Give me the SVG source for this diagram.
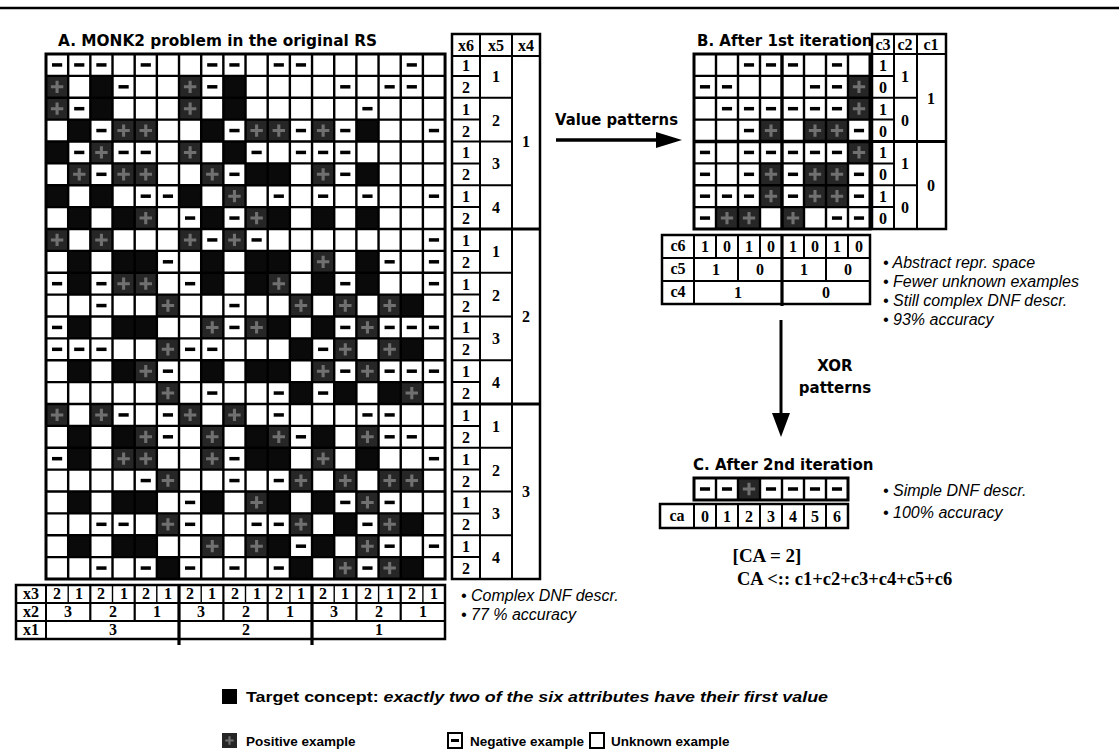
<svg xmlns="http://www.w3.org/2000/svg" xmlns:xlink="http://www.w3.org/1999/xlink" width="1119" height="752" viewBox="0 0 1119 752">
<style>
.ln{stroke:#000;fill:none;vector-effect:non-scaling-stroke}
.tn{font-family:"Liberation Serif","Times New Roman",serif;font-weight:bold;font-size:16px;text-anchor:middle;fill:#000}
.hd{font-family:"DejaVu Sans","Liberation Sans",sans-serif;font-weight:bold;font-size:15px;fill:#000}
.nt{font-family:"Liberation Sans",Arial,sans-serif;font-style:italic;font-size:16px;fill:#000}
.lg{font-family:"Liberation Sans",Arial,sans-serif;font-weight:bold;font-size:13.5px;fill:#000}
</style>
<defs>
<rect id="b" width="1" height="1" fill="#0a0a0a"/>
<g id="p"><rect width="1" height="1" fill="#262626"/><path d="M.5 .22V.78M.22 .5H.78" stroke="#707070" stroke-width=".14" fill="none"/></g>
<rect id="m" x=".27" y=".42" width=".46" height=".16" fill="#000"/>
</defs>
<rect width="1119" height="752" fill="#fff"/>
<line x1="0" y1="8" x2="1119" y2="8" stroke="#000" stroke-width="2.5"/>

<text class="hd" x="58" y="46" textLength="319" lengthAdjust="spacingAndGlyphs">A. MONK2 problem in the original RS</text>

<g id="gridA" transform="translate(46 54) scale(22.17 21.875)">
<use href="#m" x="0" y="0"/><use href="#m" x="1" y="0"/><use href="#m" x="2" y="0"/><use href="#m" x="4" y="0"/><use href="#m" x="7" y="0"/><use href="#m" x="8" y="0"/><use href="#m" x="10" y="0"/><use href="#m" x="11" y="0"/><use href="#m" x="16" y="0"/>
<use href="#p" x="0" y="1"/><use href="#p" x="6" y="1"/><use href="#b" x="2" y="1"/><use href="#b" x="8" y="1"/><use href="#m" x="3" y="1"/><use href="#m" x="7" y="1"/><use href="#m" x="13" y="1"/><use href="#m" x="15" y="1"/><use href="#m" x="16" y="1"/>
<use href="#p" x="0" y="2"/><use href="#p" x="6" y="2"/><use href="#b" x="2" y="2"/><use href="#b" x="8" y="2"/><use href="#m" x="1" y="2"/><use href="#m" x="14" y="2"/>
<use href="#b" x="1" y="3"/><use href="#b" x="7" y="3"/><use href="#b" x="14" y="3"/><use href="#p" x="3" y="3"/><use href="#p" x="4" y="3"/><use href="#p" x="9" y="3"/><use href="#p" x="10" y="3"/><use href="#p" x="12" y="3"/><use href="#m" x="2" y="3"/><use href="#m" x="8" y="3"/><use href="#m" x="11" y="3"/><use href="#m" x="13" y="3"/><use href="#m" x="17" y="3"/>
<use href="#b" x="0" y="4"/><use href="#b" x="8" y="4"/><use href="#p" x="2" y="4"/><use href="#p" x="6" y="4"/><use href="#m" x="1" y="4"/><use href="#m" x="3" y="4"/><use href="#m" x="4" y="4"/><use href="#m" x="9" y="4"/><use href="#m" x="11" y="4"/><use href="#m" x="12" y="4"/><use href="#m" x="13" y="4"/>
<use href="#p" x="1" y="5"/><use href="#p" x="3" y="5"/><use href="#p" x="4" y="5"/><use href="#p" x="7" y="5"/><use href="#p" x="12" y="5"/><use href="#b" x="9" y="5"/><use href="#b" x="10" y="5"/><use href="#b" x="14" y="5"/><use href="#m" x="2" y="5"/><use href="#m" x="8" y="5"/><use href="#m" x="13" y="5"/>
<use href="#b" x="0" y="6"/><use href="#b" x="2" y="6"/><use href="#b" x="6" y="6"/><use href="#p" x="8" y="6"/><use href="#m" x="4" y="6"/><use href="#m" x="5" y="6"/><use href="#m" x="10" y="6"/><use href="#m" x="12" y="6"/><use href="#m" x="14" y="6"/><use href="#m" x="17" y="6"/>
<use href="#b" x="1" y="7"/><use href="#b" x="3" y="7"/><use href="#b" x="7" y="7"/><use href="#b" x="10" y="7"/><use href="#b" x="12" y="7"/><use href="#b" x="14" y="7"/><use href="#p" x="4" y="7"/><use href="#p" x="9" y="7"/><use href="#m" x="6" y="7"/><use href="#m" x="8" y="7"/>
<use href="#p" x="0" y="8"/><use href="#p" x="2" y="8"/><use href="#p" x="6" y="8"/><use href="#p" x="8" y="8"/><use href="#m" x="7" y="8"/><use href="#m" x="9" y="8"/><use href="#m" x="17" y="8"/>
<use href="#b" x="1" y="9"/><use href="#b" x="3" y="9"/><use href="#b" x="4" y="9"/><use href="#b" x="7" y="9"/><use href="#b" x="9" y="9"/><use href="#b" x="10" y="9"/><use href="#b" x="14" y="9"/><use href="#p" x="12" y="9"/><use href="#m" x="5" y="9"/><use href="#m" x="15" y="9"/><use href="#m" x="17" y="9"/>
<use href="#b" x="1" y="10"/><use href="#b" x="7" y="10"/><use href="#b" x="9" y="10"/><use href="#b" x="12" y="10"/><use href="#b" x="14" y="10"/><use href="#p" x="3" y="10"/><use href="#p" x="4" y="10"/><use href="#p" x="10" y="10"/><use href="#m" x="0" y="10"/><use href="#m" x="2" y="10"/><use href="#m" x="6" y="10"/><use href="#m" x="13" y="10"/><use href="#m" x="17" y="10"/>
<use href="#p" x="5" y="11"/><use href="#p" x="11" y="11"/><use href="#p" x="13" y="11"/><use href="#p" x="15" y="11"/><use href="#b" x="16" y="11"/><use href="#m" x="2" y="11"/><use href="#m" x="8" y="11"/>
<use href="#b" x="1" y="12"/><use href="#b" x="3" y="12"/><use href="#b" x="4" y="12"/><use href="#b" x="10" y="12"/><use href="#b" x="12" y="12"/><use href="#p" x="7" y="12"/><use href="#p" x="9" y="12"/><use href="#p" x="14" y="12"/><use href="#m" x="0" y="12"/><use href="#m" x="8" y="12"/><use href="#m" x="13" y="12"/><use href="#m" x="15" y="12"/><use href="#m" x="16" y="12"/><use href="#m" x="17" y="12"/>
<use href="#p" x="5" y="13"/><use href="#p" x="13" y="13"/><use href="#p" x="15" y="13"/><use href="#b" x="11" y="13"/><use href="#b" x="16" y="13"/><use href="#m" x="0" y="13"/><use href="#m" x="1" y="13"/><use href="#m" x="2" y="13"/><use href="#m" x="6" y="13"/><use href="#m" x="7" y="13"/><use href="#m" x="12" y="13"/>
<use href="#b" x="1" y="14"/><use href="#b" x="3" y="14"/><use href="#b" x="7" y="14"/><use href="#b" x="9" y="14"/><use href="#b" x="10" y="14"/><use href="#p" x="4" y="14"/><use href="#p" x="12" y="14"/><use href="#p" x="14" y="14"/><use href="#m" x="5" y="14"/><use href="#m" x="13" y="14"/><use href="#m" x="15" y="14"/><use href="#m" x="16" y="14"/><use href="#m" x="17" y="14"/>
<use href="#p" x="5" y="15"/><use href="#p" x="16" y="15"/><use href="#b" x="11" y="15"/><use href="#b" x="13" y="15"/><use href="#b" x="15" y="15"/><use href="#m" x="7" y="15"/><use href="#m" x="10" y="15"/><use href="#m" x="12" y="15"/>
<use href="#p" x="0" y="16"/><use href="#p" x="2" y="16"/><use href="#p" x="6" y="16"/><use href="#p" x="8" y="16"/><use href="#m" x="3" y="16"/><use href="#m" x="5" y="16"/><use href="#m" x="10" y="16"/><use href="#m" x="14" y="16"/><use href="#m" x="15" y="16"/>
<use href="#b" x="1" y="17"/><use href="#b" x="3" y="17"/><use href="#b" x="9" y="17"/><use href="#b" x="12" y="17"/><use href="#p" x="4" y="17"/><use href="#p" x="7" y="17"/><use href="#p" x="10" y="17"/><use href="#p" x="14" y="17"/><use href="#m" x="5" y="17"/><use href="#m" x="11" y="17"/><use href="#m" x="15" y="17"/><use href="#m" x="16" y="17"/>
<use href="#b" x="1" y="18"/><use href="#b" x="9" y="18"/><use href="#b" x="10" y="18"/><use href="#b" x="14" y="18"/><use href="#p" x="3" y="18"/><use href="#p" x="4" y="18"/><use href="#p" x="7" y="18"/><use href="#p" x="12" y="18"/><use href="#m" x="0" y="18"/><use href="#m" x="8" y="18"/><use href="#m" x="17" y="18"/>
<use href="#p" x="5" y="19"/><use href="#p" x="11" y="19"/><use href="#p" x="13" y="19"/><use href="#p" x="15" y="19"/><use href="#p" x="16" y="19"/><use href="#m" x="4" y="19"/><use href="#m" x="8" y="19"/><use href="#m" x="10" y="19"/>
<use href="#b" x="1" y="20"/><use href="#b" x="3" y="20"/><use href="#b" x="4" y="20"/><use href="#b" x="7" y="20"/><use href="#b" x="10" y="20"/><use href="#b" x="12" y="20"/><use href="#p" x="9" y="20"/><use href="#p" x="14" y="20"/><use href="#m" x="6" y="20"/><use href="#m" x="13" y="20"/><use href="#m" x="15" y="20"/>
<use href="#p" x="5" y="21"/><use href="#p" x="11" y="21"/><use href="#p" x="15" y="21"/><use href="#b" x="13" y="21"/><use href="#b" x="16" y="21"/><use href="#m" x="2" y="21"/><use href="#m" x="3" y="21"/><use href="#m" x="6" y="21"/><use href="#m" x="9" y="21"/><use href="#m" x="10" y="21"/><use href="#m" x="14" y="21"/>
<use href="#b" x="1" y="22"/><use href="#b" x="3" y="22"/><use href="#b" x="4" y="22"/><use href="#b" x="10" y="22"/><use href="#b" x="12" y="22"/><use href="#p" x="7" y="22"/><use href="#p" x="9" y="22"/><use href="#p" x="14" y="22"/><use href="#m" x="11" y="22"/><use href="#m" x="15" y="22"/><use href="#m" x="17" y="22"/>
<use href="#b" x="5" y="23"/><use href="#b" x="11" y="23"/><use href="#b" x="16" y="23"/><use href="#p" x="13" y="23"/><use href="#p" x="15" y="23"/><use href="#m" x="2" y="23"/><use href="#m" x="4" y="23"/><use href="#m" x="6" y="23"/><use href="#m" x="8" y="23"/><use href="#m" x="10" y="23"/><use href="#m" x="14" y="23"/>
<path class="ln" stroke-width="2.4" d="M1 0V24M2 0V24M3 0V24M4 0V24M5 0V24M6 0V24M7 0V24M8 0V24M9 0V24M10 0V24M11 0V24M12 0V24M13 0V24M14 0V24M15 0V24M16 0V24M17 0V24M0 1H18M0 2H18M0 3H18M0 4H18M0 5H18M0 6H18M0 7H18M0 8H18M0 9H18M0 10H18M0 11H18M0 12H18M0 13H18M0 14H18M0 15H18M0 16H18M0 17H18M0 18H18M0 19H18M0 20H18M0 21H18M0 22H18M0 23H18"/>
<rect class="ln" stroke-width="3" x="0" y="0" width="18" height="24"/>
</g>

<g id="tableA-rows">
<rect x="452" y="34" width="88" height="545" fill="none" stroke="#000" stroke-width="2.5"/>
<path fill="none" stroke="#000" stroke-width="2" d="M452 56H540M480 34V579M512 34V579M452 75.9H480M452 119.6H480M452 163.4H480M452 207.1H480M452 250.9H480M452 294.6H480M452 338.4H480M452 382.1H480M452 425.9H480M452 469.6H480M452 513.4H480M452 557.1H480M452 97.8H512M452 141.5H512M452 185.3H512M452 272.8H512M452 316.5H512M452 360.3H512M452 447.8H512M452 491.5H512M452 535.3H512"/>
<path fill="none" stroke="#000" stroke-width="3.2" d="M452 229H540M452 404H540"/>
<text class="tn" x="466" y="51">x6</text><text class="tn" x="496" y="51">x5</text><text class="tn" x="526" y="51">x4</text>
<text class="tn" x="466" y="71">1</text><text class="tn" x="466" y="93">2</text><text class="tn" x="466" y="115">1</text><text class="tn" x="466" y="137">2</text><text class="tn" x="466" y="158">1</text><text class="tn" x="466" y="180">2</text><text class="tn" x="466" y="202">1</text><text class="tn" x="466" y="224">2</text>
<text class="tn" x="466" y="246">1</text><text class="tn" x="466" y="268">2</text><text class="tn" x="466" y="290">1</text><text class="tn" x="466" y="312">2</text><text class="tn" x="466" y="333">1</text><text class="tn" x="466" y="355">2</text><text class="tn" x="466" y="377">1</text><text class="tn" x="466" y="399">2</text>
<text class="tn" x="466" y="421">1</text><text class="tn" x="466" y="443">2</text><text class="tn" x="466" y="465">1</text><text class="tn" x="466" y="487">2</text><text class="tn" x="466" y="508">1</text><text class="tn" x="466" y="530">2</text><text class="tn" x="466" y="552">1</text><text class="tn" x="466" y="574">2</text>
<text class="tn" x="496" y="82">1</text><text class="tn" x="496" y="126">2</text><text class="tn" x="496" y="169">3</text><text class="tn" x="496" y="213">4</text>
<text class="tn" x="496" y="257">1</text><text class="tn" x="496" y="301">2</text><text class="tn" x="496" y="344">3</text><text class="tn" x="496" y="388">4</text>
<text class="tn" x="496" y="432">1</text><text class="tn" x="496" y="476">2</text><text class="tn" x="496" y="519">3</text><text class="tn" x="496" y="563">4</text>
<text class="tn" x="526" y="147">1</text><text class="tn" x="526" y="322">2</text><text class="tn" x="526" y="497">3</text>
</g>

<g id="tableA-cols">
<rect x="16" y="585" width="429" height="54" fill="none" stroke="#000" stroke-width="2.5"/>
<path fill="none" stroke="#000" stroke-width="2" d="M16 603H445M16 621H445M46 585V639"/>
<path fill="none" stroke="#000" stroke-width="1.4" d="M68.2 585V603M112.5 585V603M156.8 585V603M201.2 585V603M245.5 585V603M289.9 585V603M334.2 585V603M378.6 585V603M422.9 585V603"/>
<path fill="none" stroke="#000" stroke-width="2.2" d="M90.3 585V621M134.7 585V621M223.4 585V621M267.7 585V621M356.4 585V621M400.7 585V621"/>
<path fill="none" stroke="#000" stroke-width="3.2" d="M179 585V645M312 585V645"/>
<text class="tn" x="31" y="599">x3</text><text class="tn" x="31" y="617">x2</text><text class="tn" x="31" y="635">x1</text>
<text class="tn" x="57" y="599">2</text><text class="tn" x="79" y="599">1</text><text class="tn" x="101" y="599">2</text><text class="tn" x="124" y="599">1</text><text class="tn" x="146" y="599">2</text><text class="tn" x="168" y="599">1</text>
<text class="tn" x="190" y="599">2</text><text class="tn" x="212" y="599">1</text><text class="tn" x="235" y="599">2</text><text class="tn" x="257" y="599">1</text><text class="tn" x="279" y="599">2</text><text class="tn" x="301" y="599">1</text>
<text class="tn" x="323" y="599">2</text><text class="tn" x="345" y="599">1</text><text class="tn" x="368" y="599">2</text><text class="tn" x="390" y="599">1</text><text class="tn" x="412" y="599">2</text><text class="tn" x="434" y="599">1</text>
<text class="tn" x="68" y="617">3</text><text class="tn" x="113" y="617">2</text><text class="tn" x="157" y="617">1</text><text class="tn" x="201" y="617">3</text><text class="tn" x="246" y="617">2</text><text class="tn" x="290" y="617">1</text><text class="tn" x="334" y="617">3</text><text class="tn" x="379" y="617">2</text><text class="tn" x="423" y="617">1</text>
<text class="tn" x="113" y="635">3</text><text class="tn" x="246" y="635">2</text><text class="tn" x="379" y="635">1</text>
</g>
<text class="nt" x="461" y="601">• Complex DNF descr.</text>
<text class="nt" x="461" y="620">• 77 % accuracy</text>

<g id="conn">
<text class="hd" x="555" y="125" textLength="123" lengthAdjust="spacingAndGlyphs">Value patterns</text>
<line x1="556" y1="140" x2="660" y2="140" stroke="#000" stroke-width="3.5"/>
<polygon points="656,132 682,140 656,148" fill="#000"/>
<text class="hd" x="835" y="371" text-anchor="middle">XOR</text>
<text class="hd" x="835" y="393" text-anchor="middle">patterns</text>
<line x1="781" y1="320" x2="781" y2="416" stroke="#000" stroke-width="3"/>
<polygon points="772,413 790,413 781,437" fill="#000"/>
</g>

<text class="hd" x="697" y="46">B. After 1st iteration</text>
<g id="gridB" transform="translate(694 54) scale(22 21.875)">
<use href="#m" x="2" y="0"/><use href="#m" x="3" y="0"/><use href="#m" x="4" y="0"/><use href="#m" x="6" y="0"/>
<use href="#m" x="0" y="1"/><use href="#m" x="1" y="1"/><use href="#m" x="5" y="1"/><use href="#m" x="6" y="1"/><use href="#p" x="7" y="1"/>
<use href="#m" x="1" y="2"/><use href="#m" x="2" y="2"/><use href="#m" x="3" y="2"/><use href="#m" x="4" y="2"/><use href="#m" x="5" y="2"/><use href="#m" x="6" y="2"/><use href="#p" x="7" y="2"/>
<use href="#m" x="2" y="3"/><use href="#p" x="3" y="3"/><use href="#p" x="5" y="3"/><use href="#p" x="6" y="3"/><use href="#m" x="7" y="3"/>
<use href="#m" x="0" y="4"/><use href="#m" x="2" y="4"/><use href="#m" x="3" y="4"/><use href="#m" x="4" y="4"/><use href="#m" x="5" y="4"/><use href="#m" x="6" y="4"/><use href="#p" x="7" y="4"/>
<use href="#m" x="0" y="5"/><use href="#m" x="2" y="5"/><use href="#p" x="3" y="5"/><use href="#m" x="4" y="5"/><use href="#p" x="5" y="5"/><use href="#p" x="6" y="5"/><use href="#m" x="7" y="5"/>
<use href="#m" x="0" y="6"/><use href="#m" x="1" y="6"/><use href="#m" x="2" y="6"/><use href="#p" x="3" y="6"/><use href="#m" x="4" y="6"/><use href="#p" x="5" y="6"/><use href="#p" x="6" y="6"/><use href="#m" x="7" y="6"/>
<use href="#m" x="0" y="7"/><use href="#p" x="1" y="7"/><use href="#p" x="2" y="7"/><use href="#p" x="4" y="7"/><use href="#m" x="6" y="7"/><use href="#m" x="7" y="7"/>
<path class="ln" stroke-width="2.4" d="M1 0V8M2 0V8M3 0V8M5 0V8M6 0V8M7 0V8M0 1H8M0 2H8M0 3H8M0 5H8M0 6H8M0 7H8"/>
<path class="ln" stroke-width="3.4" d="M4 0V8M0 4H8"/>
<rect class="ln" stroke-width="3" x="0" y="0" width="8" height="8"/>
</g>

<g id="tableB-rows">
<rect x="872" y="34" width="74" height="195" fill="none" stroke="#000" stroke-width="2.5"/>
<path fill="none" stroke="#000" stroke-width="2" d="M872 54H946M894 34V229M917 34V229M872 75.9H894M872 119.6H894M872 163.4H894M872 207.1H894M872 97.8H917M872 185.3H917"/>
<path fill="none" stroke="#000" stroke-width="3.2" d="M872 141.5H946"/>
<text class="tn" x="883" y="50">c3</text><text class="tn" x="905" y="50">c2</text><text class="tn" x="931" y="50">c1</text>
<text class="tn" x="883" y="71">1</text><text class="tn" x="883" y="93">0</text><text class="tn" x="883" y="115">1</text><text class="tn" x="883" y="137">0</text><text class="tn" x="883" y="158">1</text><text class="tn" x="883" y="180">0</text><text class="tn" x="883" y="202">1</text><text class="tn" x="883" y="224">0</text>
<text class="tn" x="905" y="82">1</text><text class="tn" x="905" y="126">0</text><text class="tn" x="905" y="169">1</text><text class="tn" x="905" y="213">0</text>
<text class="tn" x="931" y="104">1</text><text class="tn" x="931" y="191">0</text>
</g>

<g id="tableB-cols">
<rect x="662" y="235" width="208" height="69" fill="none" stroke="#000" stroke-width="2.5"/>
<path fill="none" stroke="#000" stroke-width="2" d="M662 258H870M662 281H870M694 235V304M716 235V258M738 235V281M760 235V258M804 235V258M826 235V281M848 235V258"/>
<path fill="none" stroke="#000" stroke-width="3.2" d="M782 235V306"/>
<text class="tn" x="678" y="251">c6</text><text class="tn" x="678" y="274">c5</text><text class="tn" x="678" y="297">c4</text>
<text class="tn" x="705" y="252">1</text><text class="tn" x="727" y="252">0</text><text class="tn" x="749" y="252">1</text><text class="tn" x="771" y="252">0</text><text class="tn" x="793" y="252">1</text><text class="tn" x="815" y="252">0</text><text class="tn" x="837" y="252">1</text><text class="tn" x="859" y="252">0</text>
<text class="tn" x="716" y="275">1</text><text class="tn" x="760" y="275">0</text><text class="tn" x="804" y="275">1</text><text class="tn" x="848" y="275">0</text>
<text class="tn" x="738" y="298">1</text><text class="tn" x="826" y="298">0</text>
</g>
<text class="nt" x="883" y="268">• Abstract repr. space</text>
<text class="nt" x="883" y="287">• Fewer unknown examples</text>
<text class="nt" x="883" y="306">• Still complex DNF descr.</text>
<text class="nt" x="883" y="325">• 93% accuracy</text>

<text class="hd" x="693" y="470">C. After 2nd iteration</text>
<g id="gridC" transform="translate(694 478) scale(22 22)">
<use href="#m" x="0" y="0"/><use href="#m" x="1" y="0"/><use href="#p" x="2" y="0"/><use href="#m" x="3" y="0"/><use href="#m" x="4" y="0"/><use href="#m" x="5" y="0"/><use href="#m" x="6" y="0"/>
<path class="ln" stroke-width="2.4" d="M1 0V1M2 0V1M3 0V1M4 0V1M5 0V1M6 0V1"/>
<rect class="ln" stroke-width="3" x="0" y="0" width="7" height="1"/>
</g>
<g id="tableC">
<rect x="660" y="504" width="188" height="24" fill="none" stroke="#000" stroke-width="2.5"/>
<path fill="none" stroke="#000" stroke-width="2" d="M694 504V528M716 504V528M738 504V528M760 504V528M782 504V528M804 504V528M826 504V528"/>
<text class="tn" x="677" y="521">ca</text>
<text class="tn" x="705" y="522">0</text><text class="tn" x="727" y="522">1</text><text class="tn" x="749" y="522">2</text><text class="tn" x="771" y="522">3</text><text class="tn" x="793" y="522">4</text><text class="tn" x="815" y="522">5</text><text class="tn" x="837" y="522">6</text>
</g>
<text class="nt" x="883" y="496">• Simple DNF descr.</text>
<text class="nt" x="883" y="518">• 100% accuracy</text>
<text class="tn" x="767" y="562" style="font-size:19px">[CA = 2]</text>
<text class="tn" x="737" y="585" style="font-size:18.5px;text-anchor:start">CA &lt;:: c1+c2+c3+c4+c5+c6</text>

<g id="legend">
<rect x="222" y="689" width="15" height="15" fill="#000"/>
<text class="lg" x="246" y="702" textLength="582" lengthAdjust="spacingAndGlyphs" style="font-size:15px">Target concept: <tspan font-style="italic">exactly two of the six attributes have their first value</tspan></text>
<g transform="translate(222 733) scale(15)"><use href="#p"/></g>
<text class="lg" x="246" y="746">Positive example</text>
<rect x="448" y="733" width="14" height="15" fill="#fff" stroke="#000" stroke-width="2"/>
<rect x="451" y="739" width="8" height="3" fill="#000"/>
<text class="lg" x="470" y="746">Negative example</text>
<rect x="590" y="733" width="14" height="15" fill="#fff" stroke="#000" stroke-width="2"/>
<text class="lg" x="611" y="746">Unknown example</text>
</g>
</svg>
